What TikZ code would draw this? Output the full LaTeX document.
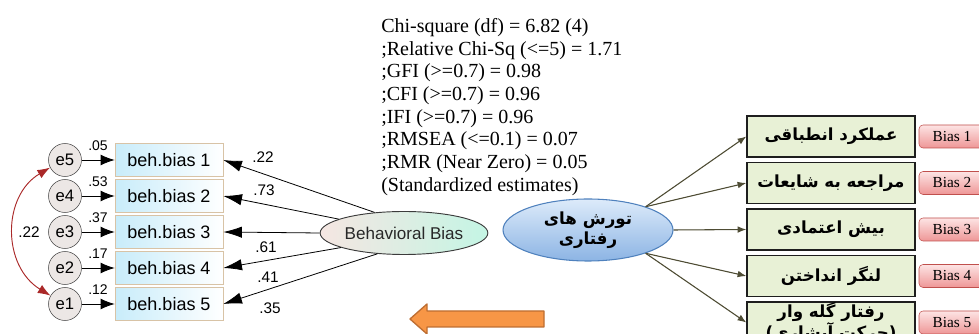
\documentclass[tikz,border=0pt]{standalone}
\usepackage{fontspec}
\setmainfont{Liberation Serif}
\newfontfamily\arialfont{Liberation Sans}
\newfontfamily\farsifont[Script=Arabic]{DejaVu Sans}
\TeXXeTstate=1
\usetikzlibrary{arrows.meta,shapes.geometric}

\definecolor{errfill}{RGB}{236,231,229}
\definecolor{boxline}{RGB}{216,195,166}
\definecolor{boxblue}{RGB}{200,236,250}
\definecolor{bbleft}{RGB}{245,230,226}
\definecolor{bbright}{RGB}{196,245,228}
\definecolor{corred}{RGB}{170,40,40}
\definecolor{olive}{RGB}{78,76,52}
\definecolor{greenfill}{RGB}{232,241,214}
\definecolor{pinktop}{RGB}{253,228,228}
\definecolor{pinkbot}{RGB}{238,150,150}
\definecolor{pinkline}{RGB}{192,80,77}
\definecolor{bluetop}{RGB}{221,235,250}
\definecolor{bluebot}{RGB}{140,180,228}
\definecolor{blueline}{RGB}{79,129,189}
\definecolor{orangefill}{RGB}{247,150,70}
\definecolor{orangeline}{RGB}{190,110,50}

\begin{document}
\begin{tikzpicture}[x=0.75pt,y=0.75pt,yscale=-1,xscale=1,
  errnode/.style={circle,draw={rgb,255:red,70;green,70;blue,70},fill=errfill,minimum size=24.75pt,inner sep=0pt,font=\arialfont\fontsize{12.5}{14}\selectfont},
  obsnode/.style={rectangle,draw=boxline,left color=boxblue,right color=white,minimum width=81pt,minimum height=24.75pt,inner sep=0pt,font=\arialfont\fontsize{13.5}{15}\selectfont},
  smallnum/.style={inner sep=0.75pt,font=\arialfont\fontsize{10.5}{12}\selectfont},
  loadnum/.style={inner sep=0.75pt,font=\arialfont\fontsize{11.5}{13}\selectfont},
  farsibox/.style={rectangle,draw={rgb,255:red,30;green,30;blue,30},line width=1.1pt,fill=greenfill,minimum width=126pt,minimum height=30.75pt,inner sep=0pt,align=center,font=\farsifont\bfseries\fontsize{12.5}{16}\selectfont},
  biastag/.style={rectangle,rounded corners=3pt,draw=pinkline,top color=pinktop,bottom color=pinkbot,minimum width=49.5pt,minimum height=17.25pt,inner sep=0pt,font=\fontsize{11.5}{13}\selectfont},
  errarrow/.style={-{Latex[length=10.5pt,width=8pt]},line width=0.6pt},
  loadarrow/.style={-{Latex[length=14pt,width=8.5pt]},line width=0.6pt},
  farsiarrow/.style={-{Latex[length=6.5pt,width=5pt]},draw=olive,fill=olive,line width=0.8pt}
]
\useasboundingbox (0,0) rectangle (979,334);
\clip (0,0) rectangle (979,334);

%Fit statistics
\node [anchor=north west,inner sep=0pt,align=left,font=\fontsize{15}{17}\selectfont] (stats) at (381,18) {Chi-square (df) = 6.82 (4)\\;Relative Chi-Sq (<=5) = 1.71\\;GFI (>=0.7) = 0.98\\;CFI (>=0.7) = 0.96\\;IFI (>=0.7) = 0.96\\;RMSEA (<=0.1) = 0.07\\;RMR (Near Zero) = 0.05\\(Standardized estimates)};

%Error terms and observed variables
\foreach \i/\e/\y/\v in {1/5/160/.05,2/4/196/.53,3/3/232/.37,4/2/268/.17,5/1/304/.12} {
  \node [errnode] (e\e) at (65,\y) {e\e};
  \node [obsnode] (b\i) at (169,\y) {beh.bias \i};
  \draw [errarrow] (e\e) -- (b\i);
  \node [smallnum] (v\i) at (98,\y-14) {\v};
}

%Correlation e5 - e1
\draw [corred,line width=0.7pt,{Latex[length=9.5pt,width=7pt]}-{Latex[length=9.5pt,width=7pt]}] (e5.207) .. controls (2,196) and (2,266) .. (e1.150);
\node [loadnum] (r51) at (29,232) {.22};

%Latent variable
\node [ellipse,draw={rgb,255:red,60;green,60;blue,60},line width=0.7pt,left color=bbleft,right color=bbright,minimum width=106.5pt,minimum height=32.25pt,inner sep=0pt,font=\arialfont\fontsize{12.8}{14}\selectfont,text={rgb,255:red,40;green,40;blue,40}] (bb) at (404,233) {Behavioral Bias};
\draw [loadarrow] (bb.145) -- (b1.east);
\draw [loadarrow] (bb.168) -- (b2.east);
\draw [loadarrow] (bb.180) -- (b3.east);
\draw [loadarrow] (bb.193) -- (b4.east);
\draw [loadarrow] (bb.218) -- (b5.east);
% Text Node
\node [loadnum] (l1) at (263,157) {.22};
\node [loadnum] (l2) at (264,190) {.73};
\node [loadnum] (l4) at (266,247) {.61};
\node [loadnum] (l5) at (268,277) {.41};
\node [loadnum] (l6) at (270,308) {.35};

%Orange arrow
\draw [orangeline,fill=orangefill,line width=1pt,line join=round] (410,319) -- (427,304) -- (427,311) -- (544,311) -- (544,327) -- (427,327) -- (427,334) -- cycle;

%Persian model
\node [ellipse,draw=blueline,line width=0.8pt,top color=bluetop,bottom color=bluebot,minimum width=127.5pt,minimum height=46.5pt,inner sep=0pt,align=center,font=\farsifont\bfseries\fontsize{12.5}{15}\selectfont] (rb) at (588,230) {\beginR تورش های\endR\\\beginR رفتاری\endR};

\node [farsibox] (g1) at (831,136.5) {\beginR عملکرد انطباقی\endR};
\node [farsibox] (g2) at (831,183) {\beginR مراجعه به شایعات\endR};
\node [farsibox] (g3) at (831,229.5) {\beginR بیش اعتمادی\endR};
\node [farsibox] (g4) at (831,276) {\beginR لنگر انداختن\endR};
\node [farsibox] (g5) at (831,322.5) {\beginR رفتار گله وار\endR\\\beginR (حرکت آبشاری)\endR};

\draw [farsiarrow] (rb.22) -- (g1.west);
\draw [farsiarrow] (rb.22) -- (g2.west);
\draw [farsiarrow] (rb.0) -- (g3.west);
\draw [farsiarrow] (rb.-22) -- (g4.west);
\draw [farsiarrow] (rb.-22) -- (g5.west);

%Bias tags
\foreach \k/\y in {1/136.5,2/183,3/229.5,4/276,5/322.5} {
  \node [biastag] (t\k) at (952,\y) {Bias \k};
}

\end{tikzpicture}
\end{document}
